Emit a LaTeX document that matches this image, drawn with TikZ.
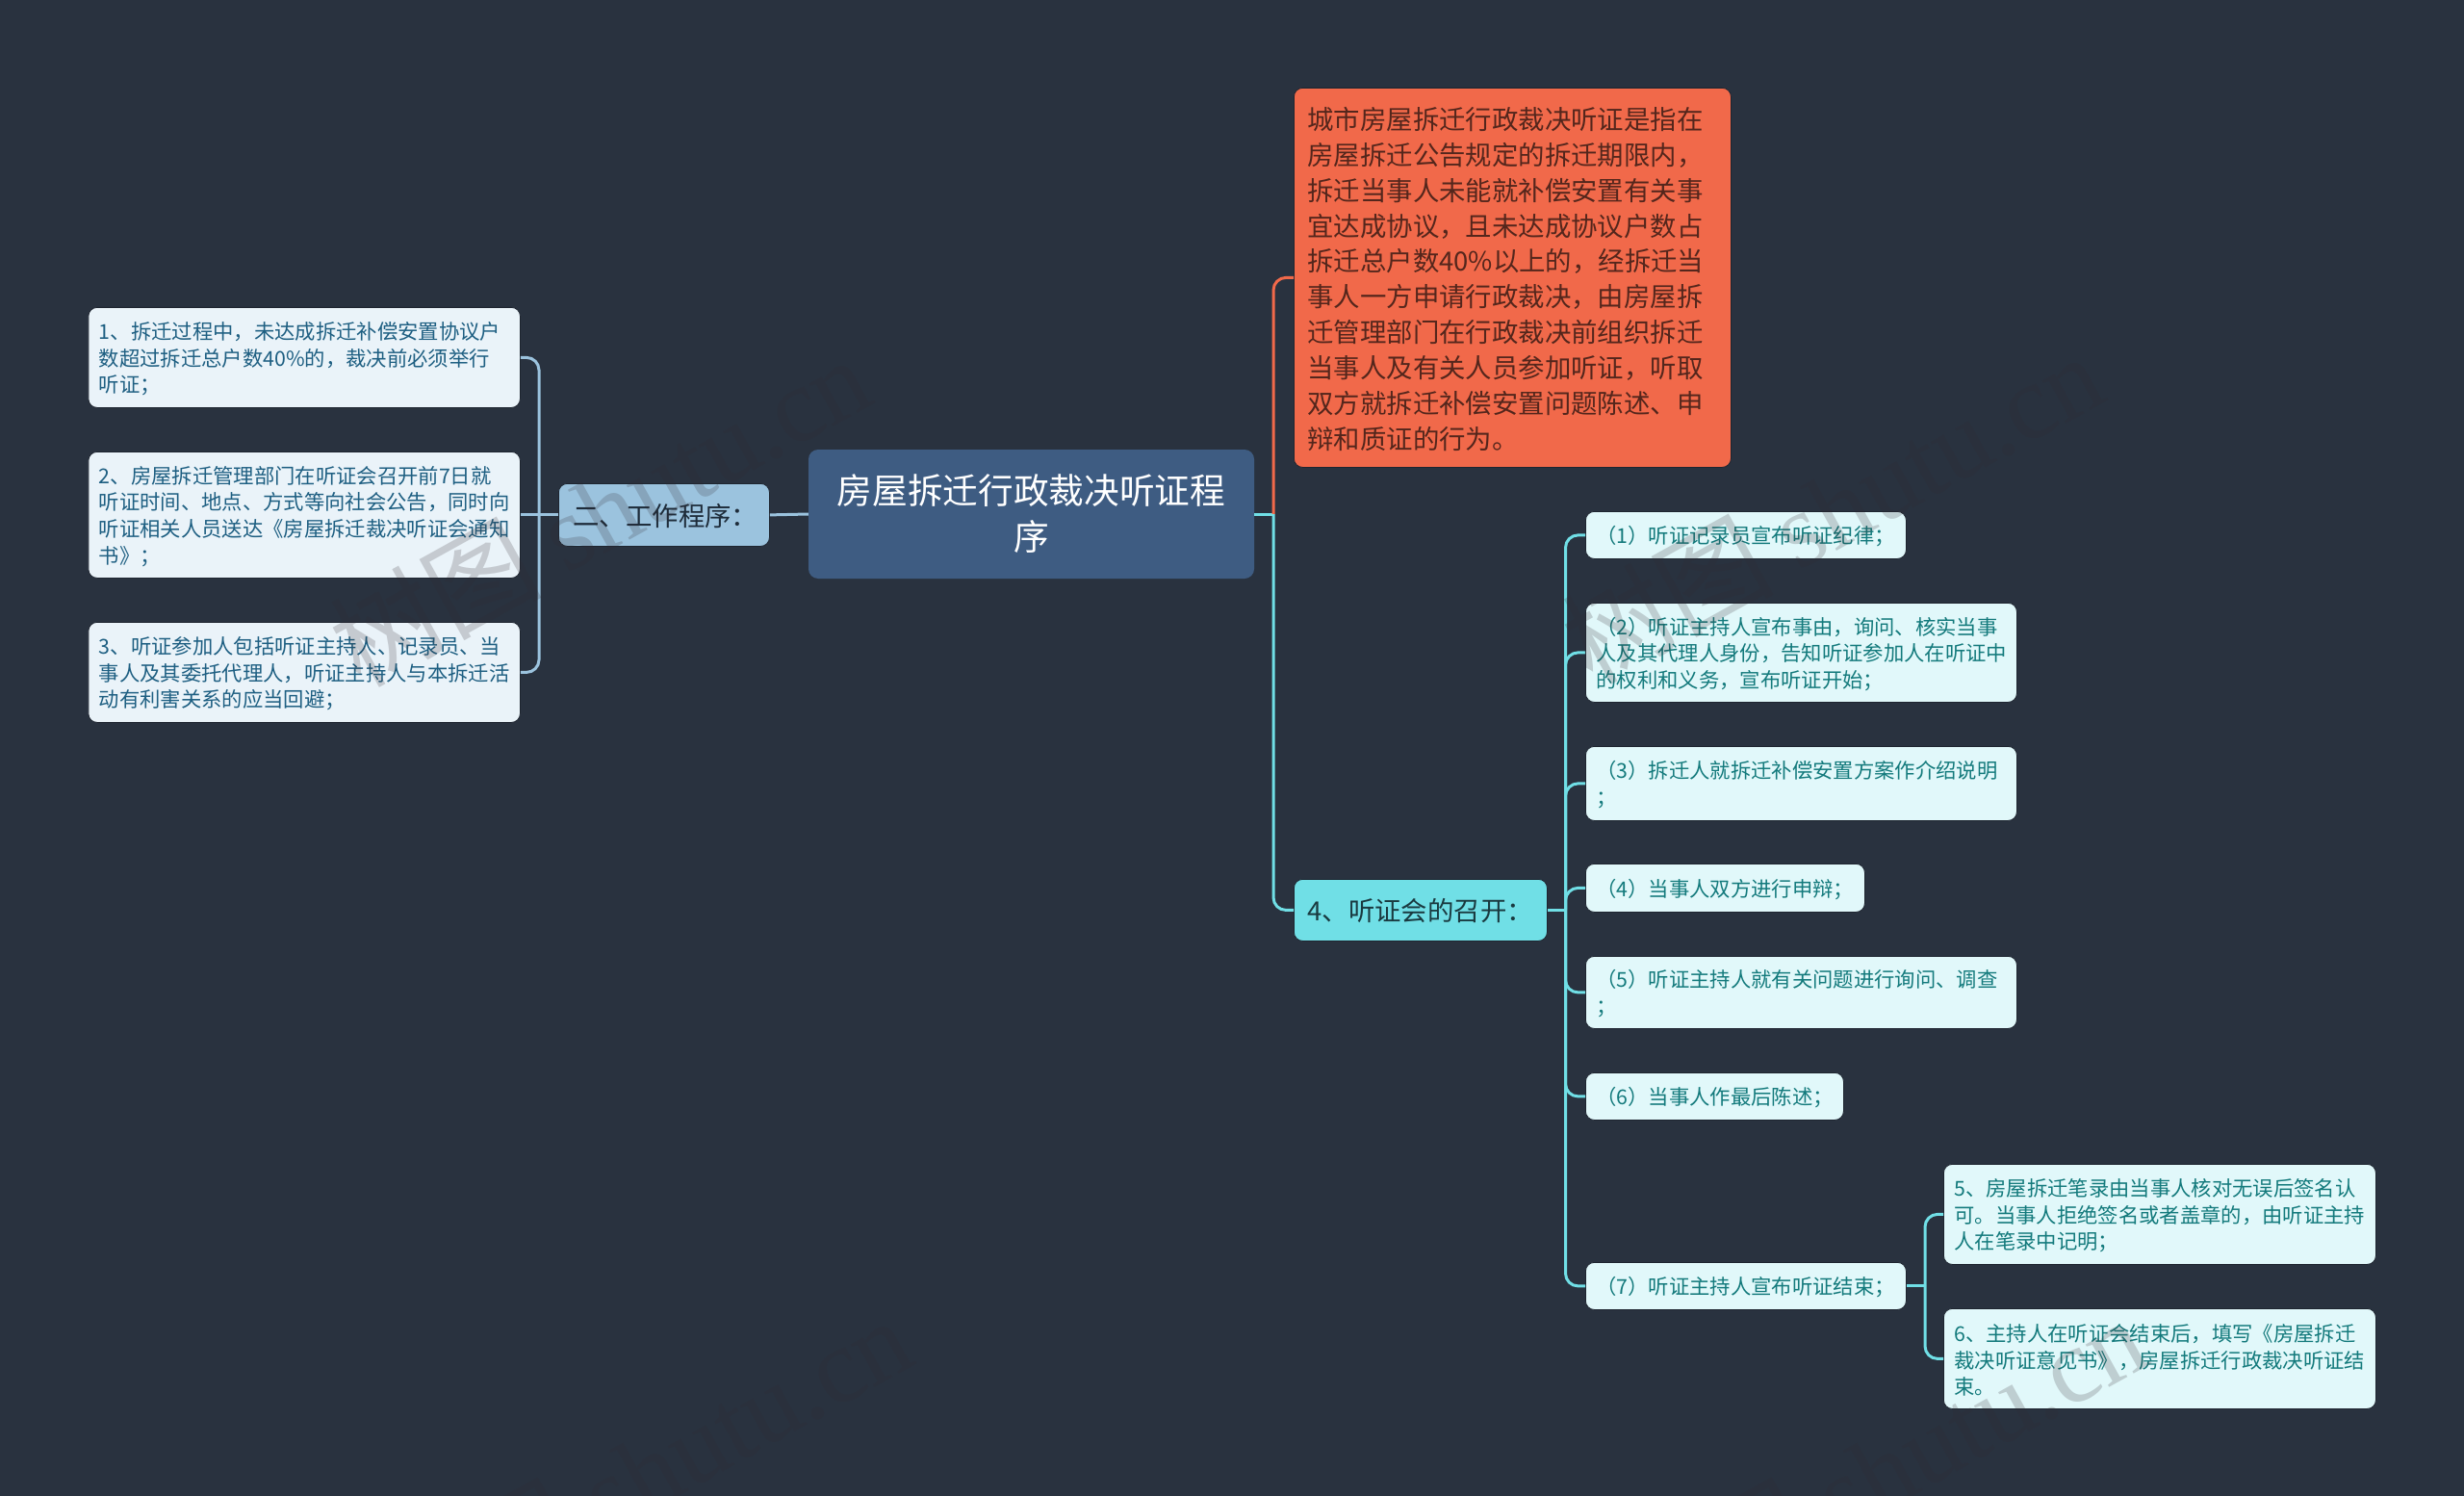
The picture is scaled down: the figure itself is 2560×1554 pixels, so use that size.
\documentclass[tikz,border=0pt]{standalone}
\usepackage{fontspec}
\setmainfont{Noto Sans CJK SC}
\newfontfamily\wmlatin{Liberation Serif}
\usetikzlibrary{calc}
\definecolor{bgc}{HTML}{29323F}
\definecolor{rootc}{HTML}{3E5C82}
\definecolor{orangec}{HTML}{F1694A}
\definecolor{orangetx}{HTML}{54261C}
\definecolor{bluec}{HTML}{9BC3DE}
\definecolor{bluetx}{HTML}{1E2C3A}
\definecolor{blueleaf}{HTML}{EAF3F9}
\definecolor{blueleaftx}{HTML}{1E5F82}
\definecolor{cyanc}{HTML}{70DFE6}
\definecolor{cyantx}{HTML}{1A3A40}
\definecolor{cyanleaf}{HTML}{E1F8FA}
\definecolor{cyanleaftx}{HTML}{137A7C}
\definecolor{edgec}{HTML}{1E2530}
\definecolor{wmc}{HTML}{322A30}
\newcommand{\bx}[7]{%
  \node[#6, anchor=north west, inner ysep=0pt, text width={#4-#2-2*\pgfkeysvalueof{/tikz/padx}},
        minimum height={#5-#3}] (#1) at (#2,#3) {#7\par\vspace*{-3pt}};}
\tikzset{
  padx/.initial=11,
  boxbase/.style={rounded corners=9pt, align=left, draw=edgec, line width=0.8pt, inner xsep=\pgfkeysvalueof{/tikz/padx}*1pt},
  leafb/.style={boxbase, fill=blueleaf, text=blueleaftx, font=\fontsize{21.33}{27.7}\selectfont},
  leafc/.style={boxbase, fill=cyanleaf, text=cyanleaftx, font=\fontsize{21.33}{27.7}\selectfont},
  rootbox/.style={rounded corners=10pt, fill=rootc, text=white, align=center, font=\fontsize{36.67}{48}\selectfont},
  bluebox/.style={boxbase, fill=bluec, text=bluetx, font=\fontsize{27.4}{36.8}\selectfont},
  cyanbox/.style={boxbase, fill=cyanc, text=cyantx, font=\fontsize{27.4}{36.8}\selectfont},
  orangebox/.style={boxbase, fill=orangec, text=orangetx, font=\fontsize{27.4}{36.85}\selectfont},
  conb/.style={draw=bluec, line width=3pt, rounded corners=13pt},
  conc/.style={draw=cyanc, line width=3pt, rounded corners=13pt},
  cono/.style={draw=orangec, line width=3pt, rounded corners=13pt},
  wmark/.style={rotate=29, text=wmc, opacity=0.2, inner sep=0pt, font=\fontsize{110}{110}\selectfont}
}
\newcommand{\wmtext}{树图\hspace{25pt}{\wmlatin shutu.cn}}
\begin{document}
\begin{tikzpicture}[x=1pt,y=-1pt]
\useasboundingbox (0,0) rectangle (2560,1554);
\fill[bgc] (0,0) rectangle (2560,1554);
% nodes
\node[rootbox, anchor=center, minimum width=463pt, minimum height=134pt, inner sep=0pt] (root) at (1071.5,534) {房屋拆迁行政裁决听证程\\序};
\bx{erj}{580}{502}{799}{567}{bluebox, padx=15}{二、工作程序：}
\bx{la}{91.5}{319}{540}{423}{leafb}{1、拆迁过程中，未达成拆迁补偿安置协议户\\数超过拆迁总户数40\%的，裁决前必须举行\\听证；}
\bx{lb}{91.5}{469}{540}{600}{leafb}{2、房屋拆迁管理部门在听证会召开前7日就\\听证时间、地点、方式等向社会公告，同时向\\听证相关人员送达《房屋拆迁裁决听证会通知\\书》；}
\bx{lc}{91.5}{646}{540}{750}{leafb}{3、听证参加人包括听证主持人、记录员、当\\事人及其委托代理人，听证主持人与本拆迁活\\动有利害关系的应当回避；}
\bx{org}{1344}{91}{1798}{485}{orangebox, padx=14}{城市房屋拆迁行政裁决听证是指在\\房屋拆迁公告规定的拆迁期限内，\\拆迁当事人未能就补偿安置有关事\\宜达成协议，且未达成协议户数占\\拆迁总户数40\%以上的，经拆迁当\\事人一方申请行政裁决，由房屋拆\\迁管理部门在行政裁决前组织拆迁\\当事人及有关人员参加听证，听取\\双方就拆迁补偿安置问题陈述、申\\辩和质证的行为。}
\bx{four}{1344}{913}{1607}{977}{cyanbox, padx=14}{4、听证会的召开：}
\bx{ra}{1647}{531}{1980}{580}{leafc}{（1）听证记录员宣布听证纪律；}
\bx{rb}{1647}{626}{2095}{729}{leafc}{（2）听证主持人宣布事由，询问、核实当事\\人及其代理人身份，告知听证参加人在听证中\\的权利和义务，宣布听证开始；}
\bx{rc}{1647}{775}{2095}{852}{leafc}{（3）拆迁人就拆迁补偿安置方案作介绍说明\\；}
\bx{rd}{1647}{897}{1937}{947}{leafc}{（4）当事人双方进行申辩；}
\bx{re}{1647}{993}{2095}{1068}{leafc}{（5）听证主持人就有关问题进行询问、调查\\；}
\bx{rf}{1647}{1114}{1915}{1163}{leafc}{（6）当事人作最后陈述；}
\bx{rg}{1647}{1311}{1980}{1360}{leafc}{（7）听证主持人宣布听证结束；}
\bx{sa}{2019}{1209}{2468}{1313}{leafc}{5、房屋拆迁笔录由当事人核对无误后签名认\\可。当事人拒绝签名或者盖章的，由听证主持\\人在笔录中记明；}
\bx{sb}{2019}{1359}{2468}{1463}{leafc}{6、主持人在听证会结束后，填写《房屋拆迁\\裁决听证意见书》，房屋拆迁行政裁决听证结\\束。}
% junctions
\coordinate (spR) at (1323,0);
\coordinate (spL) at (560,0);
\coordinate (spF) at (1626.5,0);
\coordinate (spG) at (2000,0);
% connectors
\draw[conb] (root.west) -- (erj.east);
\draw[conb] (erj.west) -- (lb.east);
\draw[conb] (spL |- erj.west) -- (spL |- la.east) -- (la.east);
\draw[conb] (spL |- erj.west) -- (spL |- lc.east) -- (lc.east);
\draw[conc] (root.east) -- (spR |- root.east);
\draw[cono] (spR |- root.east) -- (spR |- org.west) -- (org.west);
\draw[conc] (spR |- root.east) -- (spR |- four.west) -- (four.west);
\draw[conc] (four.east) -- (spF |- four.east);
\foreach \n in {ra,rb,rc,rd,re,rf,rg}{
  \draw[conc] (spF |- four.east) -- (spF |- \n.west) -- (\n.west);
}
\draw[conc] (rg.east) -- (spG |- rg.east);
\draw[conc] (spG |- rg.east) -- (spG |- sa.west) -- (sa.west);
\draw[conc] (spG |- rg.east) -- (spG |- sb.west) -- (sb.west);
% watermarks
\node[wmark] (w1) at (623,530) {\wmtext};
\node[wmark] (w2) at (1903,527) {\wmtext};
\node[wmark] (w3) at (666,1528) {\wmtext};
\node[wmark] (w4) at (1948,1528) {\wmtext};
\end{tikzpicture}
\end{document}
